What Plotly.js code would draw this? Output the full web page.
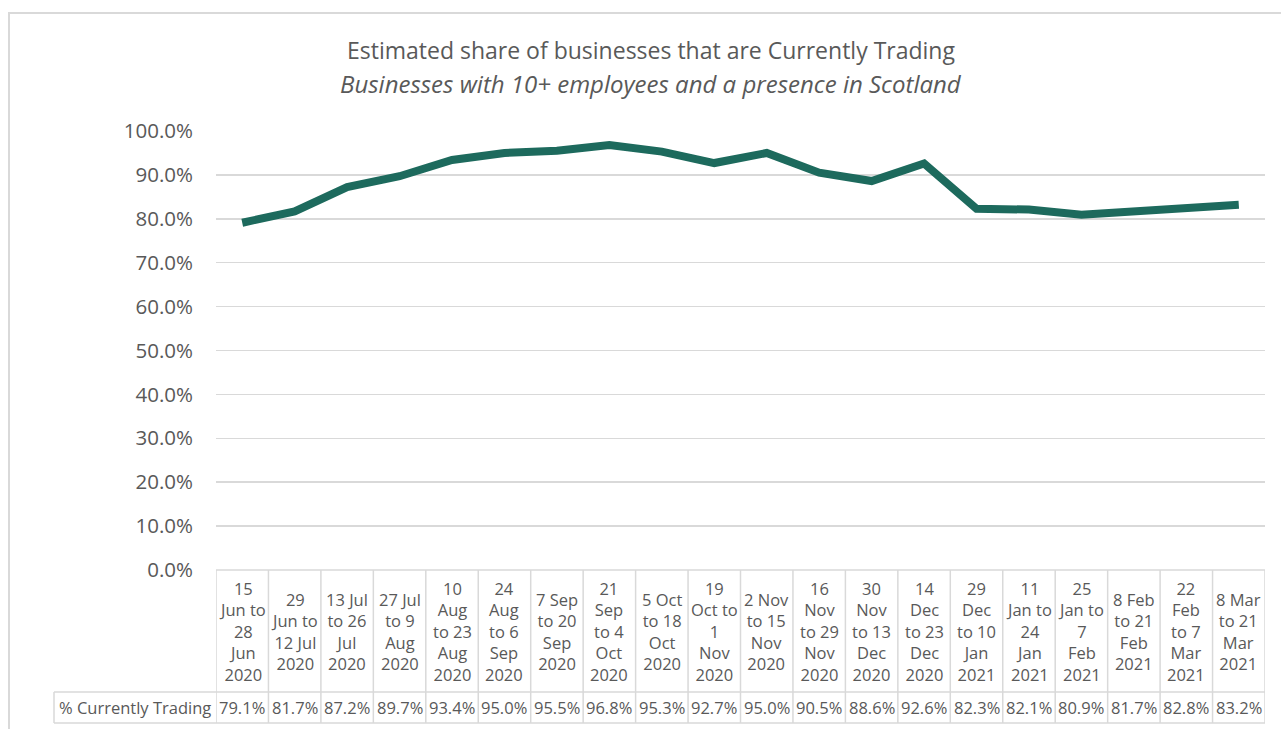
<!DOCTYPE html>
<html>
<head>
<meta charset="utf-8">
<script src="https://cdn.plot.ly/plotly-3.0.1.min.js"></script>
<style>html,body{margin:0;padding:0;background:#fff;}#chart{width:1281px;height:729px;}</style>
</head>
<body>
<div id="chart"></div>
<script>
// ---- data ----
const categories = [
  "15 Jun to 28 Jun 2020","29 Jun to 12 Jul 2020","13 Jul to 26 Jul 2020","27 Jul to 9 Aug 2020",
  "10 Aug to 23 Aug 2020","24 Aug to 6 Sep 2020","7 Sep to 20 Sep 2020","21 Sep to 4 Oct 2020",
  "5 Oct to 18 Oct 2020","19 Oct to 1 Nov 2020","2 Nov to 15 Nov 2020","16 Nov to 29 Nov 2020",
  "30 Nov to 13 Dec 2020","14 Dec to 23 Dec 2020","29 Dec to 10 Jan 2021","11 Jan to 24 Jan 2021",
  "25 Jan to 7 Feb 2021","8 Feb to 21 Feb 2021","22 Feb to 7 Mar 2021","8 Mar to 21 Mar 2021"
];
const tickLabels = [
  "15<br>Jun to<br>28<br>Jun<br>2020","29<br>Jun to<br>12 Jul<br>2020","13 Jul<br>to 26<br>Jul<br>2020","27 Jul<br>to 9<br>Aug<br>2020",
  "10<br>Aug<br>to 23<br>Aug<br>2020","24<br>Aug<br>to 6<br>Sep<br>2020","7 Sep<br>to 20<br>Sep<br>2020","21<br>Sep<br>to 4<br>Oct<br>2020",
  "5 Oct<br>to 18<br>Oct<br>2020","19<br>Oct to<br>1<br>Nov<br>2020","2 Nov<br>to 15<br>Nov<br>2020","16<br>Nov<br>to 29<br>Nov<br>2020",
  "30<br>Nov<br>to 13<br>Dec<br>2020","14<br>Dec<br>to 23<br>Dec<br>2020","29<br>Dec<br>to 10<br>Jan<br>2021","11<br>Jan to<br>24<br>Jan<br>2021",
  "25<br>Jan to<br>7<br>Feb<br>2021","8 Feb<br>to 21<br>Feb<br>2021","22<br>Feb<br>to 7<br>Mar<br>2021","8 Mar<br>to 21<br>Mar<br>2021"
];
const pctTrading = [79.1, 81.7, 87.2, 89.7, 93.4, 95.0, 95.5, 96.8, 95.3, 92.7, 95.0, 90.5, 88.6, 92.6, 82.3, 82.1, 80.9, 81.7, 82.8, 83.2];
const seriesName = "% Currently Trading";
const titleText = "Estimated share of businesses that are Currently Trading";
const subtitleText = "Businesses with 10+ employees and a presence in Scotland";
const yTickVals = [0, 0.1, 0.2, 0.3, 0.4, 0.5, 0.6, 0.7, 0.8, 0.9, 1.0];

// ---- layout geometry (pixels) ----
const W = 1281, H = 729;
const L = 216, R = 1265, T = 131, B = 570;
const PW = R - L, PH = B - T;
const px = x => (x - L) / PW;
const py = y => (B - y) / PH;

const textColor = "#595959";
const gridColor = "#d9d9d9";
const lineColor = "#1d6a5d";
const fontFam = "'Open Sans', 'Noto Sans', sans-serif";

const n = categories.length;
const yVals = pctTrading.map(v => v / 100);

const shapes = [];
const annotations = [];

// outer chart frame
shapes.push({type: "rect", xref: "paper", yref: "paper", x0: px(9), x1: px(1300), y0: py(13), y1: py(760),
  line: {color: gridColor, width: 2}, layer: "below"});

// table lines
const rowSplit = 692, tableBottom = 723, labelLeft = 54;
for (let k = 0; k <= n; k++) {
  shapes.push({type: "line", xref: "x", yref: "paper", x0: k - 0.5, x1: k - 0.5, y0: py(B), y1: py(tableBottom),
    line: {color: gridColor, width: 1.5}});
}
shapes.push({type: "line", xref: "paper", yref: "paper", x0: 0, x1: 1, y0: 0, y1: 0, line: {color: gridColor, width: 1.5}});
shapes.push({type: "line", xref: "paper", yref: "paper", x0: px(labelLeft), x1: 1, y0: py(rowSplit), y1: py(rowSplit), line: {color: gridColor, width: 1.5}});
shapes.push({type: "line", xref: "paper", yref: "paper", x0: px(labelLeft), x1: 1, y0: py(tableBottom), y1: py(tableBottom), line: {color: gridColor, width: 1.5}});
shapes.push({type: "line", xref: "paper", yref: "paper", x0: px(labelLeft), x1: px(labelLeft), y0: py(rowSplit), y1: py(tableBottom), line: {color: gridColor, width: 1.5}});

// table text
for (let i = 0; i < n; i++) {
  annotations.push({xref: "x", yref: "paper", x: i, y: py((B + rowSplit) / 2), text: tickLabels[i],
    showarrow: false, xanchor: "center", yanchor: "middle", align: "center",
    font: {family: fontFam, size: 16.5, color: textColor}});
  annotations.push({xref: "x", yref: "paper", x: i, y: py((rowSplit + tableBottom) / 2), text: pctTrading[i].toFixed(1) + "%",
    showarrow: false, xanchor: "center", yanchor: "middle",
    font: {family: fontFam, size: 16.5, color: textColor}});
}
annotations.push({xref: "paper", yref: "paper", x: px((labelLeft + L) / 2), y: py((rowSplit + tableBottom) / 2), text: seriesName,
  showarrow: false, xanchor: "center", yanchor: "middle",
  font: {family: fontFam, size: 16.5, color: textColor}});

// titles
annotations.push({xref: "paper", yref: "paper", x: px(651), y: py(50), text: titleText, showarrow: false,
  xanchor: "center", yanchor: "middle", font: {family: fontFam, size: 23, color: textColor}});
annotations.push({xref: "paper", yref: "paper", x: px(651), y: py(83), text: "<i>" + subtitleText + "</i>", showarrow: false,
  xanchor: "center", yanchor: "middle", font: {family: fontFam, size: 24, color: textColor}});

const trace = {
  type: "scatter", mode: "lines", x: categories, y: yVals, name: seriesName,
  line: {color: lineColor, width: 8, shape: "linear"}, hoverinfo: "x+y"
};

const layout = {
  width: W, height: H,
  margin: {l: L, r: W - R, t: T, b: H - B, pad: 0},
  paper_bgcolor: "#ffffff", plot_bgcolor: "#ffffff",
  showlegend: false,
  font: {family: fontFam, color: textColor},
  xaxis: {type: "category", range: [-0.5, n - 0.5], showticklabels: false, showgrid: false,
    zeroline: false, showline: false, ticks: "", fixedrange: true},
  yaxis: {range: [0, 1], tickvals: yTickVals, tickformat: ".1%", showgrid: true, gridcolor: gridColor, gridwidth: 1.5,
    zeroline: false, showline: false, ticks: "", ticklabelstandoff: 22,
    tickfont: {family: fontFam, size: 20.5, color: textColor}, fixedrange: true},
  shapes: shapes,
  annotations: annotations
};

Plotly.newPlot("chart", [trace], layout, {displayModeBar: false, staticPlot: true});
</script>
</body>
</html>
